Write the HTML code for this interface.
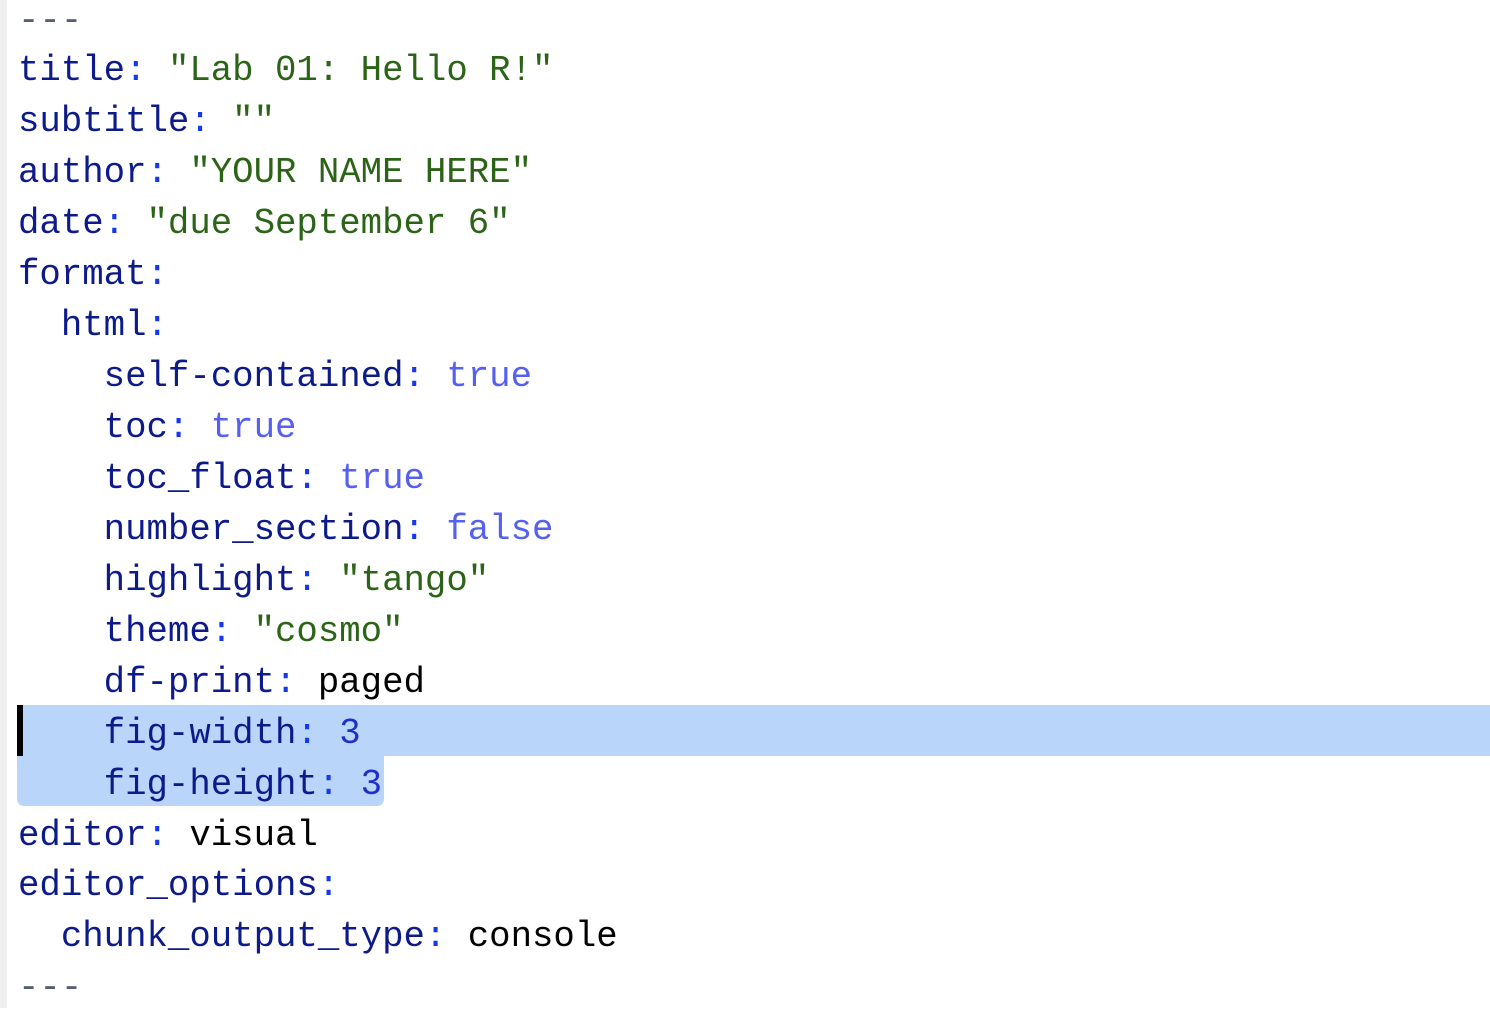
<!DOCTYPE html>
<html><head><meta charset="utf-8"><style>
html,body{margin:0;padding:0;width:1490px;height:1008px;overflow:hidden;background:#fff;}
.strip{position:absolute;left:0;top:0;width:7px;height:1008px;background:#eeeeee;}
.sel1{position:absolute;left:17px;top:705px;width:1473px;height:51px;background:#b9d5fa;}
.sel2{position:absolute;left:17px;top:755px;width:367px;height:51px;background:#b9d5fa;border-radius:0 0 7px 7px;}
.cur{position:absolute;left:17px;top:705px;width:6px;height:51px;background:#000;}
pre{position:absolute;left:18px;top:-4.5px;margin:0;font-family:"Liberation Mono",monospace;font-size:35.7px;line-height:50.93px;color:#0d1a8a;}
.c{color:#1437f0}.s{color:#2b6417}.b{color:#5560ee}.n{color:#1f30c8}.k{color:#000}.d{color:#555e72}
</style></head><body>
<div class="strip"></div><div class="sel1"></div><div class="sel2"></div><div class="cur"></div>
<pre><span class="d">---</span>
title<span class="c">:</span> <span class="s">"Lab 01: Hello R!"</span>
subtitle<span class="c">:</span> <span class="s">""</span>
author<span class="c">:</span> <span class="s">"YOUR NAME HERE"</span>
date<span class="c">:</span> <span class="s">"due September 6"</span>
format<span class="c">:</span>
  html<span class="c">:</span>
    self-contained<span class="c">:</span> <span class="b">true</span>
    toc<span class="c">:</span> <span class="b">true</span>
    toc_float<span class="c">:</span> <span class="b">true</span>
    number_section<span class="c">:</span> <span class="b">false</span>
    highlight<span class="c">:</span> <span class="s">"tango"</span>
    theme<span class="c">:</span> <span class="s">"cosmo"</span>
    df-print<span class="c">:</span> <span class="k">paged</span>
    fig-width<span class="c">:</span> <span class="n">3</span>
    fig-height<span class="c">:</span> <span class="n">3</span>
editor<span class="c">:</span> <span class="k">visual</span>
editor_options<span class="c">:</span>
  chunk_output_type<span class="c">:</span> <span class="k">console</span>
<span class="d">---</span></pre>
</body></html>
